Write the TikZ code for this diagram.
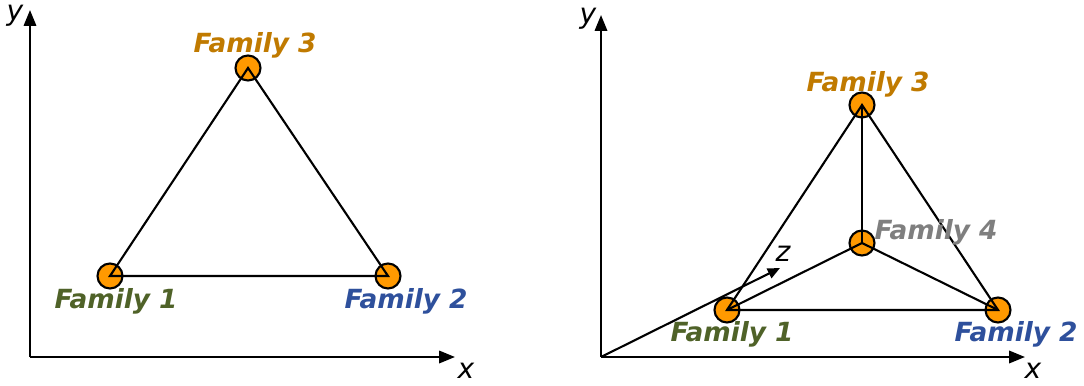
\documentclass[tikz,border=0pt]{standalone}
\usepackage{fontspec}
\setmainfont{DejaVu Sans}
\usetikzlibrary{arrows.meta}

\definecolor{famorange}{HTML}{FF9900}
\definecolor{famthree}{HTML}{C07A00}
\definecolor{famone}{HTML}{4F6228}
\definecolor{famtwo}{HTML}{2E509C}
\definecolor{famfour}{HTML}{7F7F7F}

\begin{document}
\begin{tikzpicture}[
    x=0.02cm, y=-0.02cm,
 fam/.style = {circle, draw, line width=1.2pt, fill=famorange,
               minimum size=0.5cm, inner sep=0pt},
 lbl/.style = {font=\bfseries\itshape\fontsize{15}{17}\selectfont},
 axl/.style = {font=\itshape\fontsize{16}{18}\selectfont},
 axis/.style = {line width=1.3pt, -{Triangle[length=9pt, width=7pt]}},
 edge/.style = {line width=1.2pt}
                    ]
\useasboundingbox (0,0) rectangle (1084,385);
% left: plane
\coordinate (o1) at (30,357);
\coordinate (y1) at (30,10);
\coordinate (x1) at (455,357);
\draw[axis] (o1) -- (y1);
\draw[axis] (o1) -- (x1);
\node[axl] (ly1) at (15,16) {y};
\node[axl] (lx1) at (466,371) {x};

\node[fam] (a3) at (248,68)  {};
\node[fam] (a1) at (110,276) {};
\node[fam] (a2) at (388,276) {};
\draw[edge] (a1.center) -- (a3.center) -- (a2.center) -- cycle;

\node[lbl, text=famthree] (ta3) at (255,45)  {Family 3};
\node[lbl, text=famone]   (ta1) at (116,301) {Family 1};
\node[lbl, text=famtwo]   (ta2) at (406,301) {Family 2};

% right: space
\coordinate (o2) at (601,357);
\coordinate (y2) at (601,15);
\coordinate (x2) at (1025,357);
\coordinate (z2) at (780,268);
\draw[axis] (o2) -- (y2);
\draw[axis] (o2) -- (x2);
\draw[line width=1.2pt, -{Triangle[length=7pt, width=6pt]}] (o2) -- (z2);
\node[axl] (ly2) at (588,19) {y};
\node[axl] (lx2) at (1033,371) {x};
\node[axl] (lz2) at (783,254) {z};

\node[fam] (b3) at (862,105) {};
\node[fam] (b4) at (862,243) {};
\node[fam] (b1) at (727,310) {};
\node[fam] (b2) at (998,310) {};
\draw[edge] (b1.center) -- (b3.center) -- (b2.center) -- cycle;
\draw[edge] (b4.center) -- (b1.center);
\draw[edge] (b4.center) -- (b2.center);
\draw[edge] (b4.center) -- (b3.center);

\node[lbl, text=famthree] (tb3) at (868,84)  {Family 3};
\node[lbl, text=famfour]  (tb4) at (936,232) {Family 4};
\node[lbl, text=famone]   (tb1) at (732,334) {Family 1};
\node[lbl, text=famtwo]   (tb2) at (1016,334) {Family 2};
\end{tikzpicture}
\end{document}
